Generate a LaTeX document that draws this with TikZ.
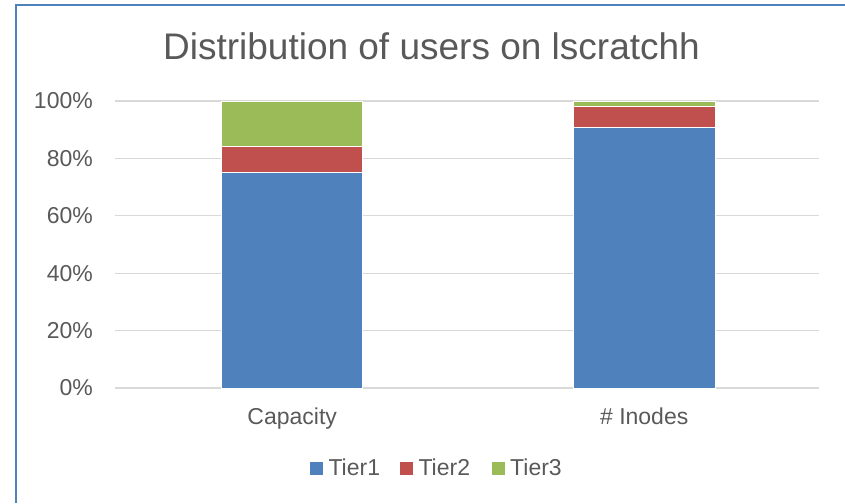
\documentclass[tikz,border=0pt]{standalone}
\usepackage{fontspec}
\setmainfont{Liberation Sans}
\definecolor{tierone}{HTML}{4F81BD}
\definecolor{tiertwo}{HTML}{C0504D}
\definecolor{tierthree}{HTML}{9BBB59}
\definecolor{gridc}{HTML}{D9D9D9}
\definecolor{txt}{HTML}{595959}
\definecolor{framec}{HTML}{4F81BD}
\tikzset{
  frameline/.style={draw=framec, line width=2pt},
  gridline/.style={draw=gridc, line width=1.3pt},
  seg/.style={draw=white, line width=0.6pt},
  ticklabel/.style={text=txt, font=\fontsize{23}{27}\selectfont, anchor=east, inner sep=0pt},
  catlabel/.style={text=txt, font=\fontsize{23}{27}\selectfont, anchor=base, inner sep=0pt},
  legtext/.style={text=txt, font=\fontsize{23}{27}\selectfont, anchor=base west, inner sep=0pt},
  titletext/.style={text=txt, font=\fontsize{37}{44}\selectfont, inner sep=0pt},
}
\begin{document}
\begin{tikzpicture}[x=1pt,y=-1pt]
\useasboundingbox (0,0) rectangle (845,503);
% frame
\draw[frameline] (15.8,503) -- (15.8,5.3) -- (845,5.3);
% title
\node[titletext] (title) at (431.5,46.5) {Distribution of users on lscratchh};
% gridlines and tick labels
\foreach \i/\t in {0/0\%,1/20\%,2/40\%,3/60\%,4/80\%,5/100\%}{
  \draw[gridline] (115,{388-57.4*\i}) -- (819,{388-57.4*\i});
  \node[ticklabel] (tick\i) at (93,{388-57.4*\i}) {\t};
}
% Capacity bar
\filldraw[seg, fill=tierone]   (221.7,388) rectangle (362.7,{388-2.87*75});
\filldraw[seg, fill=tiertwo]   (221.7,{388-2.87*75}) rectangle (362.7,{388-2.87*84.1});
\filldraw[seg, fill=tierthree] (221.7,{388-2.87*84.1}) rectangle (362.7,{388-2.87*100});
% Inodes bar
\filldraw[seg, fill=tierone]   (573.3,388) rectangle (715,{388-2.87*90.7});
\filldraw[seg, fill=tiertwo]   (573.3,{388-2.87*90.7}) rectangle (715,{388-2.87*98});
\filldraw[seg, fill=tierthree] (573.3,{388-2.87*98}) rectangle (715,{388-2.87*100});
% category labels
\node[catlabel] (cap) at (292.2,424.5) {Capacity};
\node[catlabel] (ino) at (644.2,424.5) {\# Inodes};
% legend
\fill[tierone]   (310,461.7) rectangle (323.3,474.5);
\node[legtext] (l1) at (328.3,475) {Tier1};
\fill[tiertwo]   (400,461.7) rectangle (413.3,474.5);
\node[legtext] (l2) at (418.3,475) {Tier2};
\fill[tierthree] (492,461.7) rectangle (505.3,474.5);
\node[legtext] (l3) at (510,475) {Tier3};
\end{tikzpicture}
\end{document}
